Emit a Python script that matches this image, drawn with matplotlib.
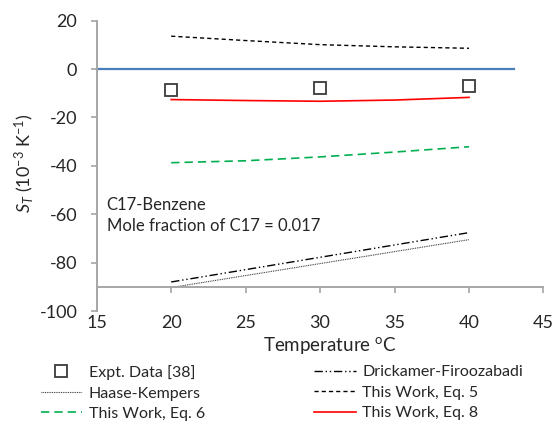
import matplotlib
matplotlib.use("Agg")
import matplotlib.pyplot as plt

plt.rcParams['font.family'] = ['Lato', 'DejaVu Sans']
plt.rcParams['mathtext.fontset'] = 'custom'
plt.rcParams['mathtext.rm'] = 'Lato'
plt.rcParams['mathtext.it'] = 'Lato:italic'

# data
t_expt = [20, 30, 40]
st_expt = [-8.5, -7.7, -7.1]

t_model = [20, 25, 30, 35, 40]
st_eq5 = [13.6, 11.8, 10.1, 9.2, 8.6]
st_eq6 = [-38.7, -37.9, -36.3, -34.3, -32.1]
st_eq8 = [-12.6, -13.0, -13.3, -12.8, -11.7]

t_lin = [20, 40]
st_drickamer = [-88.0, -67.6]
st_haase = [-90.3, -70.5]

zero_x = [15, 43]
zero_y = [0, 0]

xticks = [15, 20, 25, 30, 35, 40, 45]
yticks = [-100, -80, -60, -40, -20, 0, 20]

W, H = 556, 422
fig = plt.figure(figsize=(W / 100, H / 100), dpi=100)
ax = fig.add_axes([96.7 / W, 1 - 311 / H, (543.5 - 96.7) / W, (311 - 20.7) / H])

grey = '#a6a6a6'
txt = '#262626'

# zero line
ax.plot(zero_x, zero_y, color='#4a7ebb', lw=1.6, clip_on=False)

l_haase, = ax.plot(t_lin, st_haase, color='#303030', lw=0.8, dashes=(0.8, 0.8))
l_dric, = ax.plot(t_lin, st_drickamer, color='black', lw=1.0,
                  dashes=(6, 2, 1, 2, 1, 2))
l_eq5, = ax.plot(t_model, st_eq5, color='black', lw=1.0, dashes=(3, 2.2))
l_eq6, = ax.plot(t_model, st_eq6, color='#00b050', lw=1.2, dashes=(5, 3))
l_eq8, = ax.plot(t_model, st_eq8, color='#ff0000', lw=1.2)
l_expt, = ax.plot(t_expt, st_expt, ls='none', marker='s', ms=8.5,
                  mfc='white', mec='#3a3a3a', mew=1.3)

ax.set_xlim(15, 45)
ax.set_ylim(-100, 20)
ax.set_xticks(xticks)
ax.set_yticks(yticks)
ax.set_yticklabels([str(v) for v in yticks])

for s in ['top', 'right']:
    ax.spines[s].set_visible(False)
ax.spines['bottom'].set_position(('data', -90))
ax.spines['left'].set_color(grey)
ax.spines['bottom'].set_color(grey)
ax.spines['left'].set_linewidth(1.4)
ax.spines['bottom'].set_linewidth(1.4)
ax.tick_params(axis='y', direction='out', length=4.5, width=1.2, color=grey,
               labelsize=13, labelcolor=txt, pad=9.5)
ax.tick_params(axis='x', direction='out', length=4, width=1.2, color=grey,
               labelsize=13, labelcolor=txt, pad=16.5)

fig.text(24 / W, 1 - 163 / H, r'$S_T$ (10$^{-3}$ K$^{-1}$)', fontsize=13,
         color=txt, ha='center', va='center', rotation=90)
fig.text(330 / W, 1 - 346 / H, r'Temperature $^{\mathrm{o}}$C', fontsize=13.5,
         color=txt, ha='center', va='center')

ax.text(106.7 / W, 1 - 205 / H, 'C17-Benzene', transform=fig.transFigure,
        fontsize=12, color=txt, va='center')
ax.text(106.7 / W, 1 - 226 / H, 'Mole fraction of C17 = 0.017',
        transform=fig.transFigure, fontsize=12, color=txt, va='center')

leg_kw = dict(frameon=False, fontsize=11.5, handlelength=2.6, handletextpad=0.4,
              labelspacing=0.40, borderpad=0, borderaxespad=0, loc='upper left',
              labelcolor=txt)
fig.legend([l_expt, l_haase, l_eq6],
           ['Expt. Data [38]', 'Haase-Kempers', 'This Work, Eq. 6'],
           bbox_to_anchor=(40.7 / W, 1 - 365 / H), **leg_kw)
fig.legend([l_dric, l_eq5, l_eq8],
           ['Drickamer-Firoozabadi', 'This Work, Eq. 5', 'This Work, Eq. 8'],
           bbox_to_anchor=(314.3 / W, 1 - 365 / H), **leg_kw)

fig.savefig('out.png', dpi=100)
